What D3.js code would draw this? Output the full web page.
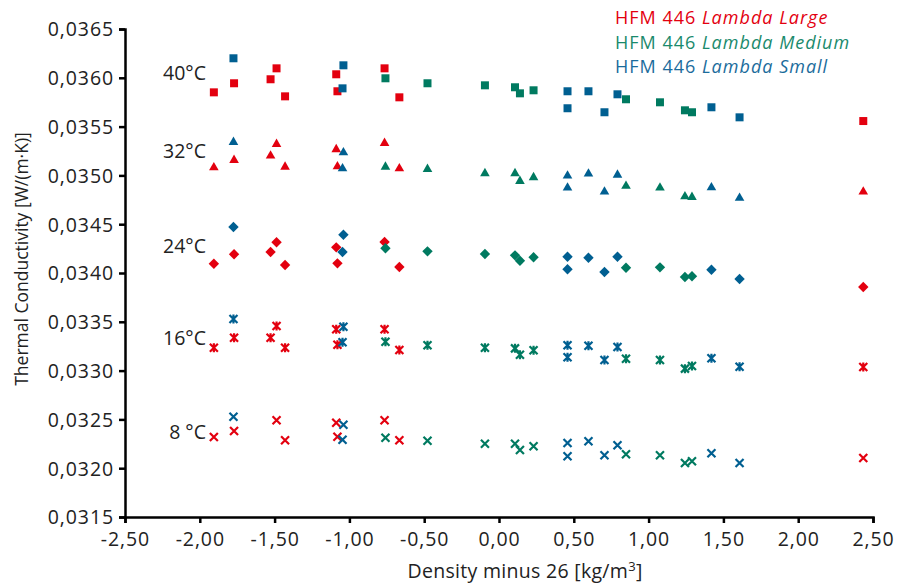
<!DOCTYPE html>
<html><head><meta charset="utf-8">
<script src="https://cdn.jsdelivr.net/npm/d3@7"></script>
<style>body{margin:0;background:#fff}svg{display:block;font-family:"Open Sans","Noto Sans",sans-serif}</style>
</head><body><svg id="c" width="914" height="583"></svg>
<script>
const temps = ["40", "32", "24", "16", "8"];
const yTicks = [0.0315,0.0320,0.0325,0.0330,0.0335,0.0340,0.0345,0.0350,0.0355,0.0360,0.0365];
const xTicks = [-2.5,-2,-1.5,-1,-0.5,0,0.5,1,1.5,2,2.5];

// HFM 446 Lambda Large
const largeX   = [-1.906,-1.771,-1.527,-1.487,-1.430,-1.088,-1.080,-0.765,-0.666,2.435];
const largeT40 = [0.035851,0.035944,0.035985,0.036097,0.035810,0.036036,0.035862,0.036097,0.035800,0.035557];
const largeT32 = [0.035089,0.035165,0.035209,0.035329,0.035096,0.035274,0.035099,0.035339,0.035079,0.034840];
const largeT24 = [0.034095,0.034192,0.034215,0.034315,0.034082,0.034263,0.034099,0.034318,0.034062,0.033857];
const largeT16 = [0.033235,0.033337,0.033337,0.033457,0.033235,0.033423,0.033265,0.033423,0.033211,0.033037];
const largeT8  = [0.032320,0.032381,null,0.032491,0.032286,0.032466,0.032323,0.032491,0.032286,0.032105];

// HFM 446 Lambda Medium
const mediumX   = [-0.759,-0.478,-0.094,0.107,0.140,0.231,0.849,1.076,1.243,1.290];
const mediumT40 = [0.035995,0.035944,0.035923,0.035903,0.035841,0.035872,0.035780,0.035749,0.035667,0.035647];
const mediumT32 = [0.035096,0.035073,0.035028,0.035028,0.034950,0.034987,0.034899,0.034881,0.034792,0.034786];
const mediumT24 = [0.034253,0.034222,0.034195,0.034181,0.034126,0.034161,0.034054,0.034058,0.033959,0.033966];
const mediumT16 = [0.033296,0.033259,0.033235,0.033228,0.033163,0.033208,0.033122,0.033109,0.033020,0.033047];
const mediumT8  = [0.032312,0.032282,0.032251,0.032251,0.032186,0.032224,0.032142,0.032132,0.032053,0.032071];

// HFM 446 Lambda Small
const smallX   = [-1.775,-1.040,-1.046,0.458,0.458,0.598,0.705,0.792,1.420,1.608];
const smallT40 = [0.036200,0.036128,0.035892,0.035862,0.035688,0.035862,0.035647,0.035831,0.035698,0.035595];
const smallT32 = [0.035349,0.035243,0.035079,0.035004,0.034881,0.035025,0.034840,0.035014,0.034884,0.034776];
const smallT24 = [0.034471,0.034392,0.034215,0.034167,0.034038,0.034157,0.034010,0.034167,0.034034,0.033939];
const smallT16 = [0.033529,0.033450,0.033290,0.033259,0.033136,0.033255,0.033109,0.033242,0.033126,0.033040];
const smallT8  = [0.032528,0.032446,0.032292,0.032258,0.032122,0.032276,0.032132,0.032235,0.032153,0.032053];

const seriesNames = ["HFM 446 ", "Lambda Large", "Lambda Medium", "Lambda Small"];
const series = [
  {name:"Lambda Large", color:"#e3000f", x:largeX, ys:[largeT40,largeT32,largeT24,largeT16,largeT8]},
  {name:"Lambda Medium", color:"#007a60", x:mediumX, ys:[mediumT40,mediumT32,mediumT24,mediumT16,mediumT8]},
  {name:"Lambda Small", color:"#005f91", x:smallX, ys:[smallT40,smallT32,smallT24,smallT16,smallT8]}
];
const legendColors = ["#e3000f","#1a8a6c","#1b6c9c"];

const svg = d3.select("#c");
const x = d3.scaleLinear().domain([-2.5,2.5]).range([125,873]);
const y = d3.scaleLinear().domain([0.0315,0.0365]).range([517,29]);
const fmt = (v,d) => v.toFixed(d).replace(".", ",");

// axes
const gx = svg.append("g").attr("transform","translate(0,517)")
  .call(d3.axisBottom(x).tickValues(xTicks).tickFormat(d=>fmt(d,2)).tickSizeOuter(0).tickSize(6).tickPadding(6));
const gy = svg.append("g").attr("transform","translate(125,0)")
  .call(d3.axisLeft(y).tickValues(yTicks).tickFormat(d=>fmt(d,4)).tickSizeOuter(0).tickSize(6).tickPadding(5));
[gx,gy].forEach(g=>{
  g.select(".domain").attr("stroke","#000").attr("stroke-width",2.5);
  g.selectAll(".tick line").attr("stroke","#000").attr("stroke-width",2.5);
  g.selectAll(".tick text").attr("fill","#222").style("font-size","19.5px")
    .style("letter-spacing","0.9px").style("font-family","'Open Sans','Noto Sans',sans-serif");
});
gx.selectAll(".tick text").attr("dy","0.85em");
gy.selectAll(".tick text").attr("dy","0.35em");

svg.append("text").attr("x",525).attr("y",578).attr("text-anchor","middle")
  .attr("fill","#222").style("font-size","19.5px").style("letter-spacing","0.3px")
  .html("Density minus 26 [kg/m<tspan dy='-7' font-size='13'>3</tspan><tspan dy='7'>]</tspan>");
svg.append("text").attr("transform","translate(28,259) rotate(-90)").attr("text-anchor","middle")
  .attr("fill","#222").style("font-size","17.5px").text("Thermal Conductivity [W/(m·K)]");

// temperature labels
const tempY = [73, 151, 246, 338, 432];
temps.forEach((t,i)=>{
  svg.append("text").attr("x",206).attr("y",tempY[i]).attr("dy","0.35em").attr("text-anchor","end")
    .attr("fill","#222").style("font-size","19.5px").text(t + (t==="8" ? " " : "") + "°C");
});

// markers
function markerPath(k){
  const p = d3.path();
  if(k===0){ p.rect(-4,-4,8,8); }
  else if(k===1){ p.moveTo(0,-4.8); p.lineTo(4.8,3.6); p.lineTo(-4.8,3.6); p.closePath(); }
  else if(k===2){ p.moveTo(0,-5.2); p.lineTo(5.2,0); p.lineTo(0,5.2); p.lineTo(-5.2,0); p.closePath(); }
  else if(k===3){ p.moveTo(-4,-4); p.lineTo(4,4); p.moveTo(4,-4); p.lineTo(-4,4); p.moveTo(0,-4.5); p.lineTo(0,4.5); }
  else { p.moveTo(-4,-4); p.lineTo(4,4); p.moveTo(4,-4); p.lineTo(-4,4); }
  return p.toString();
}
const plot = svg.append("g");
series.forEach(s=>{
  s.ys.forEach((arr,k)=>{
    const pts = s.x.map((xv,i)=>({x:xv,y:arr[i]})).filter(d=>d.y!==null);
    plot.selectAll(null).data(pts).enter().append("path")
      .attr("transform",d=>`translate(${x(d.x)},${y(d.y)})`)
      .attr("d",markerPath(k))
      .attr("fill",k<=2 ? s.color : "none")
      .attr("stroke",s.color)
      .attr("stroke-width",k<=2 ? 0 : 2.2);
  });
});

// legend
const legY = [18, 43, 67];
series.forEach((s,i)=>{
  const t = svg.append("text").attr("x",615).attr("y",legY[i]).attr("dy","0.35em")
    .attr("fill",legendColors[i]).style("font-size","18px").style("letter-spacing","1px");
  t.append("tspan").text(seriesNames[0]);
  t.append("tspan").attr("font-style","italic").text(s.name);
});
</script></body></html>
